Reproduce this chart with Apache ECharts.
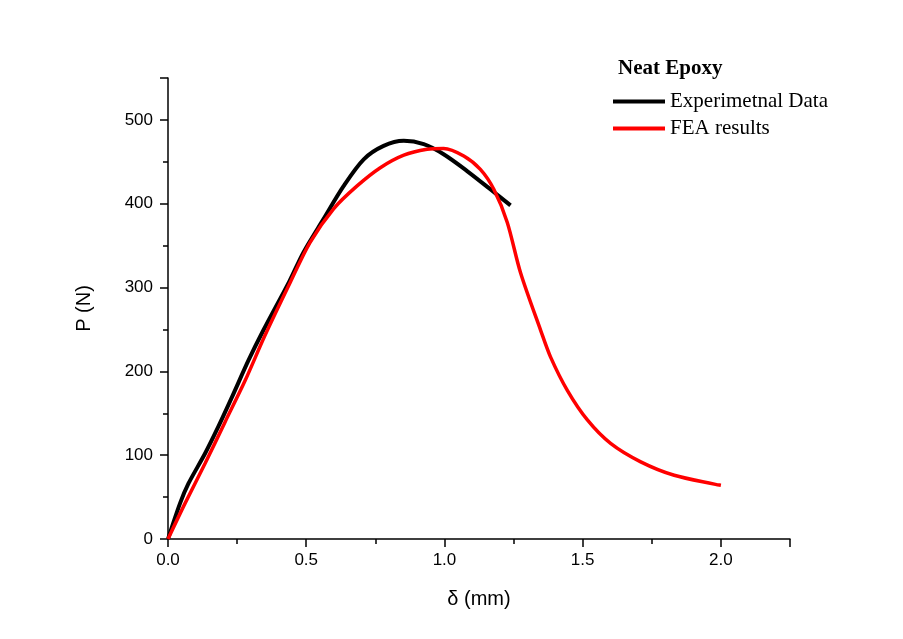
<!DOCTYPE html>
<html>
<head>
<meta charset="utf-8">
<script src="https://cdn.jsdelivr.net/npm/echarts@6/dist/echarts.min.js"></script>
<style>html,body{margin:0;padding:0;background:#fff}#c{width:903px;height:639px}</style>
</head>
<body>
<div id="c"></div>
<script>
const expX = [0, 0.0435, 0.0737, 0.134, 0.182, 0.231, 0.291, 0.345, 0.44, 0.49, 0.563, 0.635, 0.708, 0.78, 0.853, 0.925, 0.997, 1.082, 1.167, 1.239];
const expY = [0, 42.5, 66, 102, 134, 169, 213, 249, 308, 342, 382, 421, 453, 469, 475, 471, 459, 439, 417, 398];
const feaX = [0, 0.0616, 0.134, 0.207, 0.279, 0.351, 0.442, 0.514, 0.599, 0.683, 0.768, 0.853, 0.937, 0.997, 1.07, 1.13, 1.179, 1.227, 1.275, 1.348, 1.384, 1.445, 1.517, 1.601, 1.71, 1.831, 2.0];
const feaY = [0, 42.5, 90, 140, 189, 243, 306, 354, 394, 421, 443, 458, 465, 466, 457, 441, 417, 378, 318, 249, 217, 177, 142, 114, 92, 76, 64];
const seriesNames = ['Experimetnal Data', 'FEA results'];
const legendTitle = 'Neat Epoxy';
const xName = 'δ (mm)';
const yName = 'P (N)';

const zip = (a, b) => a.map((v, i) => [v, b[i]]);
const chart = echarts.init(document.getElementById('c'));
const sans = 'Liberation Sans, Arial, sans-serif';
const serif = 'Liberation Serif, Times New Roman, serif';
const axisFont = { fontFamily: sans, fontSize: 17, color: '#000' };
const nameFont = { fontFamily: sans, fontSize: 20, color: '#000' };
chart.setOption({
  backgroundColor: '#fff',
  animation: false,
  grid: { left: 168, right: 113, top: 78, bottom: 100 },
  title: {
    text: legendTitle, left: 618, top: 58, padding: 0,
    textStyle: { fontFamily: serif, fontWeight: 'bold', fontSize: 21, color: '#000' }
  },
  legend: {
    orient: 'vertical', left: 613, top: 91, itemGap: 6, padding: 0,
    itemWidth: 52, itemHeight: 4, icon: 'rect',
    textStyle: { fontFamily: serif, fontSize: 21, color: '#000' },
    data: seriesNames
  },
  xAxis: {
    type: 'value', min: 0, max: 2.25, interval: 0.5,
    name: xName, nameLocation: 'middle', nameGap: 50,
    nameTextStyle: nameFont,
    axisLine: { onZero: false, lineStyle: { color: '#000', width: 1.5 } },
    axisTick: { show: true, length: 8, lineStyle: { color: '#000', width: 1.5 } },
    minorTick: { show: true, splitNumber: 2, length: 5, lineStyle: { color: '#000', width: 1.5 } },
    splitLine: { show: false },
    axisLabel: Object.assign({}, axisFont, { margin: 13, formatter: v => v.toFixed(1), showMaxLabel: false })
  },
  yAxis: {
    type: 'value', min: 0, max: 550, interval: 100,
    name: yName, nameLocation: 'middle', nameGap: 74, nameRotate: 90,
    nameTextStyle: nameFont,
    axisLine: { show: true, onZero: false, lineStyle: { color: '#000', width: 1.5 } },
    axisTick: { show: true, length: 8, lineStyle: { color: '#000', width: 1.5 } },
    minorTick: { show: true, splitNumber: 2, length: 5, lineStyle: { color: '#000', width: 1.5 } },
    splitLine: { show: false },
    axisLabel: Object.assign({}, axisFont, { margin: 15, showMaxLabel: false })
  },
  series: [
    {
      name: seriesNames[0], type: 'line', data: zip(expX, expY), smooth: 0.3,
      showSymbol: false, symbol: 'none', color: '#000',
      lineStyle: { color: '#000', width: 4 }
    },
    {
      name: seriesNames[1], type: 'line', data: zip(feaX, feaY), smooth: 0.3,
      showSymbol: false, symbol: 'none', color: '#ff0000',
      lineStyle: { color: '#ff0000', width: 3.5 }
    }
  ]
});
</script>
</body>
</html>
